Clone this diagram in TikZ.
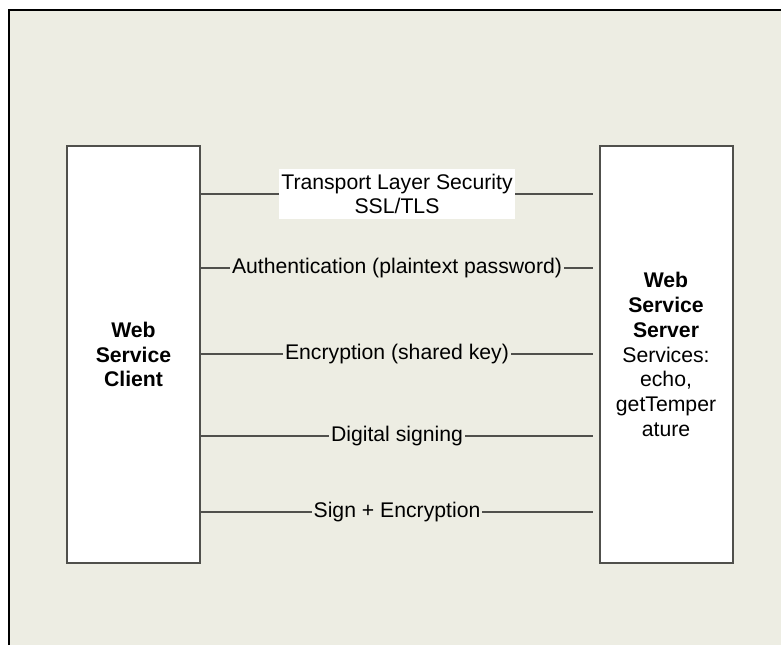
\documentclass[tikz,border=0pt]{standalone}
\usepackage{fontspec}
\setmainfont{Liberation Sans}
\usetikzlibrary{positioning}
\definecolor{paper}{RGB}{237,237,227}
\definecolor{boxline}{RGB}{80,80,76}

\begin{document}
\begin{tikzpicture}[x=0.5pt,y=-0.5pt,
        every node/.style={font=\fontsize{10.6}{12.4}\selectfont},
        end node/.style={rectangle,draw=boxline,line width=1pt,fill=white,
            minimum width=66.5pt,minimum height=208.5pt,align=center,inner sep=0pt},
        link/.style={draw=boxline,line width=0.9pt},
        tag/.style={fill=paper,align=center,inner xsep=1pt,inner ysep=1pt}]

    \useasboundingbox (0,0) rectangle (781,645);
    \fill[paper] (9,10) rectangle (781,645);
    \draw[line width=1pt] (9,645) -- (9,10) -- (781,10);

    \node[end node] (client) at (133.5,354.5) {\textbf{Web}\\\textbf{Service}\\\textbf{Client}};
    \node[end node] (server) at (666,354.5) {\textbf{Web}\\\textbf{Service}\\\textbf{Server}\\
        Services:\\echo,\\getTemper\\ature};

    \coordinate (tls) at (593,194);
    \coordinate (auth) at (593,268);
    \coordinate (enc) at (593,354);
    \coordinate (sig) at (593,436);
    \coordinate (both) at (593,512);

    \path[link]
    (client.east |- tls) edge node[tag,fill=white,inner ysep=2.5pt] {Transport Layer Security\\SSL/TLS} (tls)
    (client.east |- auth) edge node[tag] {Authentication (plaintext password)} (auth)
    (client.east |- enc) edge node[tag] {Encryption (shared key)} (enc)
    (client.east |- sig) edge node[tag] {Digital signing} (sig)
    (client.east |- both) edge node[tag] {Sign + Encryption} (both)
    ;
\end{tikzpicture}
\end{document}
